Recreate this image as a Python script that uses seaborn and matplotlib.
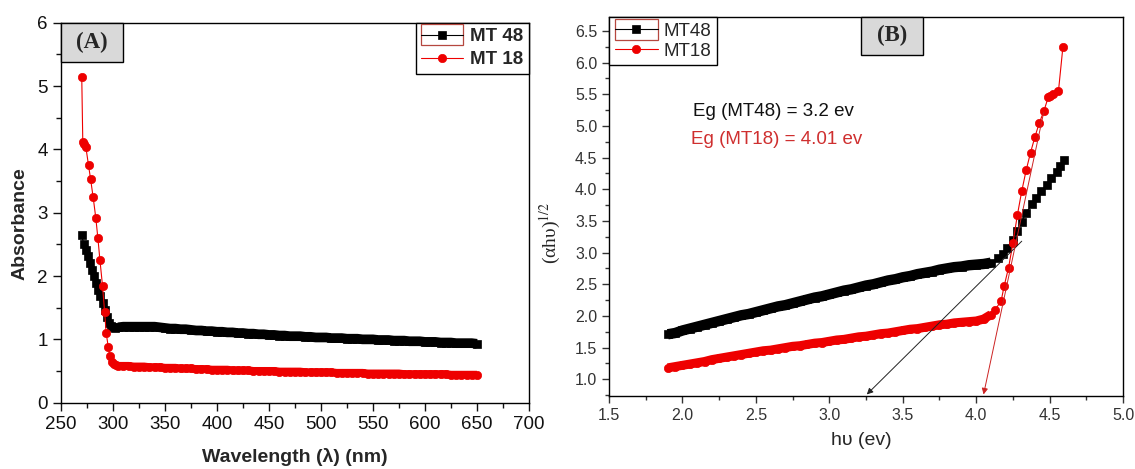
import matplotlib
matplotlib.use("Agg")
import matplotlib.pyplot as plt
import seaborn as sns
from matplotlib.patches import Rectangle
from matplotlib.legend_handler import HandlerLine2D
from matplotlib.ticker import MultipleLocator, AutoMinorLocator, FormatStrFormatter

# ---------------- Panel A: absorbance vs wavelength ----------------
# steep UV edge (read point by point)
wl_48_edge = [270, 272, 274, 276, 278, 280, 282, 284, 286, 288, 290, 292, 294, 296, 298, 300, 302]
abs_48_edge = [2.64, 2.50, 2.41, 2.31, 2.21, 2.10, 2.00, 1.89, 1.78, 1.68, 1.57, 1.46, 1.36, 1.26, 1.21, 1.19, 1.18]

wl_18_edge = [270, 271, 272.5, 274, 276.5, 278.5, 281, 283.5, 285.5, 287.5, 290, 292, 293.5, 295.5, 297, 299, 301, 303]
abs_18_edge = [5.15, 4.12, 4.08, 4.03, 3.75, 3.53, 3.24, 2.92, 2.60, 2.25, 1.84, 1.43, 1.10, 0.88, 0.73, 0.65, 0.61, 0.59]

# flat visible region
wl_tail = [305, 310, 315, 320, 325, 330, 335, 340, 345, 350,
           355, 360, 365, 370, 375, 380, 385, 390, 395, 400,
           405, 410, 415, 420, 425, 430, 435, 440, 445, 450,
           455, 460, 465, 470, 475, 480, 485, 490, 495, 500,
           505, 510, 515, 520, 525, 530, 535, 540, 545, 550,
           555, 560, 565, 570, 575, 580, 585, 590, 595, 600,
           605, 610, 615, 620, 625, 630, 635, 640, 645, 650]
abs_48_tail = [1.19, 1.20, 1.20, 1.20, 1.20, 1.20, 1.20, 1.20, 1.19, 1.18,
               1.17, 1.17, 1.16, 1.16, 1.15, 1.14, 1.14, 1.13, 1.13, 1.12,
               1.12, 1.11, 1.11, 1.10, 1.10, 1.09, 1.09, 1.08, 1.08, 1.07,
               1.07, 1.06, 1.06, 1.05, 1.05, 1.05, 1.04, 1.04, 1.03, 1.03,
               1.03, 1.02, 1.02, 1.02, 1.01, 1.01, 1.01, 1.00, 1.00, 1.00,
               0.99, 0.99, 0.99, 0.98, 0.98, 0.98, 0.97, 0.97, 0.97, 0.96,
               0.96, 0.96, 0.95, 0.95, 0.95, 0.94, 0.94, 0.94, 0.94, 0.93]
abs_18_tail = [0.58, 0.58, 0.58, 0.57, 0.57, 0.57, 0.56, 0.56, 0.56, 0.55,
               0.55, 0.55, 0.54, 0.54, 0.54, 0.53, 0.53, 0.53, 0.52, 0.52,
               0.52, 0.52, 0.51, 0.51, 0.51, 0.51, 0.50, 0.50, 0.50, 0.50,
               0.50, 0.49, 0.49, 0.49, 0.49, 0.49, 0.48, 0.48, 0.48, 0.48,
               0.48, 0.48, 0.47, 0.47, 0.47, 0.47, 0.47, 0.47, 0.46, 0.46,
               0.46, 0.46, 0.46, 0.46, 0.46, 0.45, 0.45, 0.45, 0.45, 0.45,
               0.45, 0.45, 0.45, 0.45, 0.44, 0.44, 0.44, 0.44, 0.44, 0.44]

# ---------------- Panel B: Tauc plot ----------------
ev_flat = [1.90, 1.95, 2.00, 2.05, 2.10,
           2.15, 2.20, 2.25, 2.30, 2.35,
           2.40, 2.45, 2.50, 2.55, 2.60,
           2.65, 2.70, 2.75, 2.80, 2.85,
           2.90, 2.95, 3.00, 3.05, 3.10,
           3.15, 3.20, 3.25, 3.30, 3.35,
           3.40, 3.45, 3.50, 3.55, 3.60,
           3.65, 3.70, 3.75, 3.80, 3.85,
           3.90, 3.95, 4.00, 4.05, 4.10]
tauc_48_flat = [1.71, 1.73, 1.77, 1.80, 1.83,
                1.86, 1.89, 1.92, 1.95, 1.98,
                2.01, 2.03, 2.06, 2.09, 2.12,
                2.15, 2.17, 2.20, 2.23, 2.26,
                2.29, 2.31, 2.34, 2.37, 2.40,
                2.42, 2.45, 2.48, 2.50, 2.53,
                2.56, 2.58, 2.61, 2.63, 2.66,
                2.68, 2.70, 2.73, 2.75, 2.77,
                2.78, 2.80, 2.81, 2.82, 2.84]
tauc_18_flat = [1.18, 1.20, 1.22, 1.24, 1.26,
                1.28, 1.31, 1.33, 1.35, 1.37,
                1.39, 1.41, 1.43, 1.45, 1.46,
                1.48, 1.50, 1.52, 1.53, 1.55,
                1.57, 1.58, 1.60, 1.62, 1.63,
                1.65, 1.67, 1.68, 1.70, 1.72,
                1.73, 1.75, 1.77, 1.79, 1.80,
                1.82, 1.84, 1.86, 1.87, 1.89,
                1.90, 1.91, 1.92, 1.95, 2.02]

ev_48_edge = [4.15, 4.18, 4.21, 4.25, 4.28, 4.31, 4.34, 4.38, 4.41, 4.44, 4.48, 4.51, 4.55, 4.57, 4.60]
tauc_48_edge = [2.91, 2.98, 3.07, 3.20, 3.34, 3.49, 3.63, 3.76, 3.86, 3.97, 4.07, 4.18, 4.28, 4.36, 4.46]
ev_18_edge = [4.13, 4.17, 4.19, 4.22, 4.25, 4.28, 4.31, 4.34, 4.37, 4.40, 4.43, 4.46, 4.49, 4.50, 4.52, 4.56, 4.59]
tauc_18_edge = [2.10, 2.24, 2.47, 2.76, 3.15, 3.59, 3.97, 4.30, 4.58, 4.83, 5.05, 5.23, 5.45, 5.48, 5.51, 5.55, 6.24]

# tangent (extrapolation) lines: [start, arrow tip]
tangent_48_x = [4.31, 3.255]
tangent_48_y = [3.18, 0.76]
tangent_18_x = [4.46, 4.05]
tangent_18_y = [5.22, 0.76]

RED = "#ee0000"


class BoxedHandle(HandlerLine2D):
    # Origin draws a thin red frame round the first legend symbol
    def create_artists(self, legend, orig_handle, xdescent, ydescent,
                       width, height, fontsize, trans):
        artists = super().create_artists(legend, orig_handle, xdescent, ydescent,
                                         width, height, fontsize, trans)
        box = Rectangle((-xdescent, -ydescent - 0.3 * height), width, 1.6 * height,
                        fill=False, edgecolor="#b5473f", linewidth=0.9, transform=trans)
        return [box] + list(artists)


def draw_series(ax, x_band, y_band, x_all, y_all, color, marker, band_width, label):
    # the densely sampled part shows up as a solid band of overlapping symbols
    sns.lineplot(x=x_band, y=y_band, ax=ax, color=color, linewidth=band_width,
                 solid_capstyle="butt")
    sns.lineplot(x=x_all, y=y_all, ax=ax, color=color, marker=marker, markersize=6,
                 markeredgecolor=color, markeredgewidth=0.5, linewidth=0.8, label=label)
    return ax.lines[-1]


sns.set_style("ticks")
plt.rcParams["font.family"] = ["Liberation Sans", "DejaVu Sans"]
plt.rcParams["mathtext.fontset"] = "stix"

fig = plt.figure(figsize=(11.35, 4.69), dpi=100)
ax_a = fig.add_axes([0.0537, 0.1414, 0.4123, 0.8102])
ax_b = fig.add_axes([0.5366, 0.1557, 0.4529, 0.8081])

# ---- panel A ----
line_a48 = draw_series(ax_a, wl_tail, abs_48_tail, wl_48_edge + wl_tail, abs_48_edge + abs_48_tail,
                       "black", "s", 7, "MT 48")
draw_series(ax_a, wl_tail, abs_18_tail, wl_18_edge + wl_tail, abs_18_edge + abs_18_tail,
            RED, "o", 5.8, "MT 18")

ax_a.set_xlim(250, 700)
ax_a.set_ylim(0, 6)
ax_a.xaxis.set_major_locator(MultipleLocator(50))
ax_a.xaxis.set_minor_locator(AutoMinorLocator(2))
ax_a.yaxis.set_major_locator(MultipleLocator(1))
ax_a.yaxis.set_minor_locator(AutoMinorLocator(2))
ax_a.tick_params(which="major", length=6, width=1, labelsize=13.5, colors="#111111")
ax_a.tick_params(which="minor", length=3.5, width=1, colors="#111111")
ax_a.set_xlabel("Wavelength (λ) (nm)", fontsize=14, fontweight="bold", va="top")
ax_a.set_ylabel("Absorbance", fontsize=14, fontweight="bold")
ax_a.xaxis.set_label_coords(0.5, -0.118)
ax_a.yaxis.set_label_coords(-0.07, 0.47)

leg_a = ax_a.legend(loc="upper right", borderaxespad=0, fancybox=False, framealpha=1,
                    edgecolor="black", prop={"weight": "bold", "size": 13.5},
                    handlelength=2.2, handletextpad=0.4, borderpad=0.3, labelspacing=0.3,
                    handler_map={line_a48: BoxedHandle()})
leg_a.get_frame().set_linewidth(1.0)

ax_a.add_patch(Rectangle((0, 0.897), 0.132, 0.103, transform=ax_a.transAxes,
                         facecolor="#d9d9d9", edgecolor="black", linewidth=1,
                         zorder=5, clip_on=False))
ax_a.text(0.066, 0.949, "(A)", transform=ax_a.transAxes, ha="center", va="center",
          family="Liberation Serif", fontweight="bold", fontsize=16.5, zorder=6)

# ---- panel B ----
line_b48 = draw_series(ax_b, ev_flat, tauc_48_flat, ev_flat + ev_48_edge, tauc_48_flat + tauc_48_edge,
                       "black", "s", 7.5, "MT48")
draw_series(ax_b, ev_flat, tauc_18_flat, ev_flat + ev_18_edge, tauc_18_flat + tauc_18_edge,
            RED, "o", 6.5, "MT18")

ax_b.annotate("", xy=(tangent_48_x[1], tangent_48_y[1]), xytext=(tangent_48_x[0], tangent_48_y[0]),
              arrowprops=dict(arrowstyle="-|>", color="#222222", lw=0.7, mutation_scale=9,
                              shrinkA=0, shrinkB=0))
ax_b.annotate("", xy=(tangent_18_x[1], tangent_18_y[1]), xytext=(tangent_18_x[0], tangent_18_y[0]),
              arrowprops=dict(arrowstyle="-|>", color="#cc2222", lw=0.7, mutation_scale=9,
                              shrinkA=0, shrinkB=0))

ax_b.text(2.62, 5.23, "Eg (MT48) = 3.2 ev", ha="center", va="center", fontsize=13.5, color="#111111")
ax_b.text(2.64, 4.78, "Eg (MT18) = 4.01 ev", ha="center", va="center", fontsize=13.5, color="#cf2f2f")

ax_b.set_xlim(1.5, 5.0)
ax_b.set_ylim(0.736, 6.72)
ax_b.xaxis.set_major_locator(MultipleLocator(0.5))
ax_b.xaxis.set_minor_locator(AutoMinorLocator(2))
ax_b.yaxis.set_major_locator(MultipleLocator(0.5))
ax_b.yaxis.set_minor_locator(AutoMinorLocator(2))
ax_b.xaxis.set_major_formatter(FormatStrFormatter("%.1f"))
ax_b.yaxis.set_major_formatter(FormatStrFormatter("%.1f"))
ax_b.tick_params(which="major", length=5, width=1, labelsize=11.5, colors="#333333")
ax_b.tick_params(which="minor", length=3, width=1, colors="#333333")
ax_b.set_xlabel("hυ (ev)", fontsize=14, va="top")
ax_b.set_ylabel("(αhυ)$^{1/2}$", fontsize=14, family="Liberation Serif")
ax_b.xaxis.set_label_coords(0.49, -0.095)
ax_b.yaxis.set_label_coords(-0.09, 0.43)

leg_b = ax_b.legend(loc="upper left", borderaxespad=0, fancybox=False, framealpha=1,
                    edgecolor="black", prop={"size": 13.5},
                    handlelength=2.3, handletextpad=0.3, borderpad=0.3, labelspacing=0.15,
                    handler_map={line_b48: BoxedHandle()})
leg_b.get_frame().set_linewidth(1.0)

ax_b.add_patch(Rectangle((0.490, 0.900), 0.120, 0.100, transform=ax_b.transAxes,
                         facecolor="#d9d9d9", edgecolor="black", linewidth=1,
                         zorder=5, clip_on=False))
ax_b.text(0.550, 0.950, "(B)", transform=ax_b.transAxes, ha="center", va="center",
          family="Liberation Serif", fontweight="bold", fontsize=16.5, zorder=6)

for ax in (ax_a, ax_b):
    for spine in ax.spines.values():
        spine.set_linewidth(1.0)
        spine.set_color("black")

fig.savefig("out.png", dpi=100)
